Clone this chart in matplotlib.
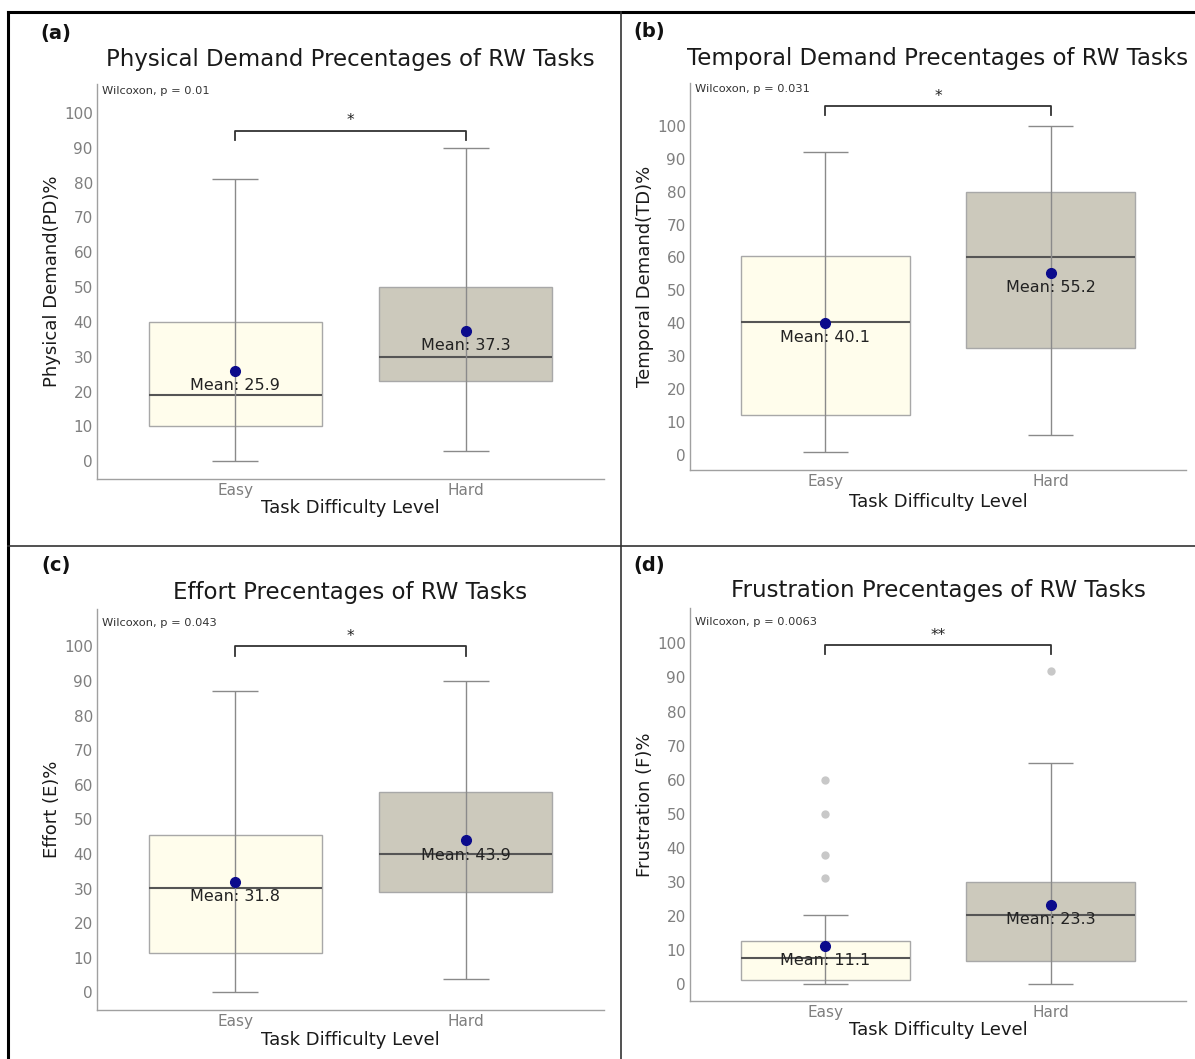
import matplotlib
matplotlib.use("Agg")
import matplotlib.pyplot as plt
from matplotlib.lines import Line2D

# categories and labels
categories = ["Easy", "Hard"]
positions = [1, 2]
panel_tags = ["(a)", "(b)", "(c)", "(d)"]
titles = [
    "Physical Demand Precentages of RW Tasks",
    "Temporal Demand Precentages of RW Tasks",
    "Effort Precentages of RW Tasks",
    "Frustration Precentages of RW Tasks",
]
ylabels = ["Physical Demand(PD)%", "Temporal Demand(TD)%", "Effort (E)%", "Frustration (F)%"]
p_labels = ["Wilcoxon, p = 0.01", "Wilcoxon, p = 0.031", "Wilcoxon, p = 0.043", "Wilcoxon, p = 0.0063"]
stars = ["*", "*", "*", "**"]
xlabel = "Task Difficulty Level"

# box statistics, one entry per panel (a, b, c, d)
easy_lo = [0, 1, 0, 0]
easy_q1 = [10, 12, 11.5, 1.2]
easy_med = [19, 40.5, 30.3, 7.6]
easy_q3 = [40, 60.5, 45.5, 12.6]
easy_hi = [81, 92, 87, 20.3]
easy_mean = [25.9, 40.1, 31.8, 11.1]
easy_out = [[], [], [], [60, 50, 38, 31]]

hard_lo = [3, 6, 4, 0]
hard_q1 = [23, 32.5, 29, 6.7]
hard_med = [30, 60, 40, 20.3]
hard_q3 = [50, 80, 58, 30]
hard_hi = [90, 100, 90, 65]
hard_mean = [37.3, 55.2, 43.9, 23.3]
hard_out = [[], [], [], [92]]

# layout (pixels of the 1195x1059 canvas)
W, H = 1195, 1059
axes_px = [(97, 604, 84, 479), (690, 1186, 83, 470), (97, 604, 609, 1010), (690, 1186, 608, 1001)]
ylims = [(-5.1, 108.3), (-4.6, 113.0), (-5.1, 110.8), (-5.0, 110.4)]
bracket_y = [94.9, 105.9, 100.0, 99.5]
pval_y = [106.3, 111.3, 106.8, 106.4]
title_gap = [25, 25, 17, 17]
xlab_gap = [29, 32, 30, 29]
tag_px = [(56, 33), (649, 31), (56, 566), (649, 565)]

fills = ["#FFFDEC", "#CCC9BC"]
PT = 0.72  # points per pixel at dpi 100


def draw_panel(fig, i):
    l, r, t, b = axes_px[i]
    ax = fig.add_axes([l / W, 1 - b / H, (r - l) / W, (b - t) / H])

    stats = [
        dict(med=easy_med[i], q1=easy_q1[i], q3=easy_q3[i], whislo=easy_lo[i],
             whishi=easy_hi[i], fliers=easy_out[i], mean=easy_mean[i]),
        dict(med=hard_med[i], q1=hard_q1[i], q3=hard_q3[i], whislo=hard_lo[i],
             whishi=hard_hi[i], fliers=hard_out[i], mean=hard_mean[i]),
    ]
    bp = ax.bxp(stats, positions=positions, widths=0.75, patch_artist=True,
                showcaps=False, showmeans=False,
                whiskerprops=dict(visible=False),
                boxprops=dict(edgecolor="#a8a8a8", linewidth=1),
                medianprops=dict(color="#555555", linewidth=1.5),
                flierprops=dict(marker="o", markerfacecolor="#c8c8c8",
                                markeredgecolor="none", markersize=6))
    for patch, c in zip(bp["boxes"], fills):
        patch.set_facecolor(c)
        patch.set_zorder(2)

    # error bars drawn through the boxes
    los = [easy_lo[i], hard_lo[i]]
    his = [easy_hi[i], hard_hi[i]]
    ax.vlines(positions, los, his, color="#8a8a8a", lw=1, zorder=3)
    for p, lo, hi in zip(positions, los, his):
        ax.hlines([lo, hi], p - 0.1, p + 0.1, color="#8a8a8a", lw=1, zorder=3)

    means = [easy_mean[i], hard_mean[i]]
    ax.plot(positions, means, "o", color="#0b0b8c", ms=7, zorder=5)
    for p, m in zip(positions, means):
        ax.annotate(f"Mean: {m}", (p, m), xytext=(0, -10.5), textcoords="offset points",
                    ha="center", va="center", fontsize=11.5, color="#222222", zorder=6)

    # significance bracket
    by = bracket_y[i]
    ax.plot([1, 1, 2, 2], [by - 2.7, by, by, by - 2.7], color="#333333", lw=1.3)
    ax.annotate(stars[i], (1.5, by), xytext=(0, 4), textcoords="offset points",
                ha="center", va="baseline", fontsize=11, color="#222222")
    ax.text(0.42, pval_y[i], p_labels[i], fontsize=8.2, va="center", ha="left", color="#333333")

    ax.set_xlim(0.4, 2.6)
    ax.set_ylim(*ylims[i])
    ax.set_xticks(positions, categories)
    ax.set_yticks(range(0, 101, 10))
    ax.tick_params(length=0, pad=3, labelsize=11, labelcolor="#7f7f7f")
    for s in ["top", "right"]:
        ax.spines[s].set_visible(False)
    for s in ["left", "bottom"]:
        ax.spines[s].set_color("#a0a0a0")
        ax.spines[s].set_linewidth(1)

    ax.annotate(titles[i], (0.5, 1), xycoords="axes fraction", xytext=(0, title_gap[i] * PT),
                textcoords="offset points", ha="center", va="center", fontsize=16.5, color="#1a1a1a")
    ax.annotate(xlabel, (0.5, 0), xycoords="axes fraction", xytext=(0, -xlab_gap[i] * PT),
                textcoords="offset points", ha="center", va="center", fontsize=13, color="#1a1a1a")
    ax.annotate(ylabels[i], (0, 0.5), xycoords="axes fraction", xytext=(-45 * PT, 0),
                textcoords="offset points", ha="center", va="center", rotation=90,
                fontsize=13, color="#1a1a1a")

    tx, ty = tag_px[i]
    fig.text(tx / W, 1 - ty / H, panel_tags[i], fontsize=14, fontweight="bold",
             ha="center", va="center", color="#111111")
    return ax


def main():
    fig = plt.figure(figsize=(W / 100, H / 100), dpi=100)
    for i in range(4):
        draw_panel(fig, i)

    # frame and dividers
    fig.add_artist(Line2D([8 / W, 1], [1 - 12 / H] * 2, color="black", lw=2.2))
    fig.add_artist(Line2D([8 / W] * 2, [0, 1 - 12 / H], color="black", lw=2.2))
    fig.add_artist(Line2D([620.5 / W] * 2, [0, 1 - 12 / H], color="#333333", lw=1.2))
    fig.add_artist(Line2D([8 / W, 1], [1 - 546 / H] * 2, color="#333333", lw=1.2))

    fig.savefig("out.png", dpi=100)


if __name__ == "__main__":
    main()
